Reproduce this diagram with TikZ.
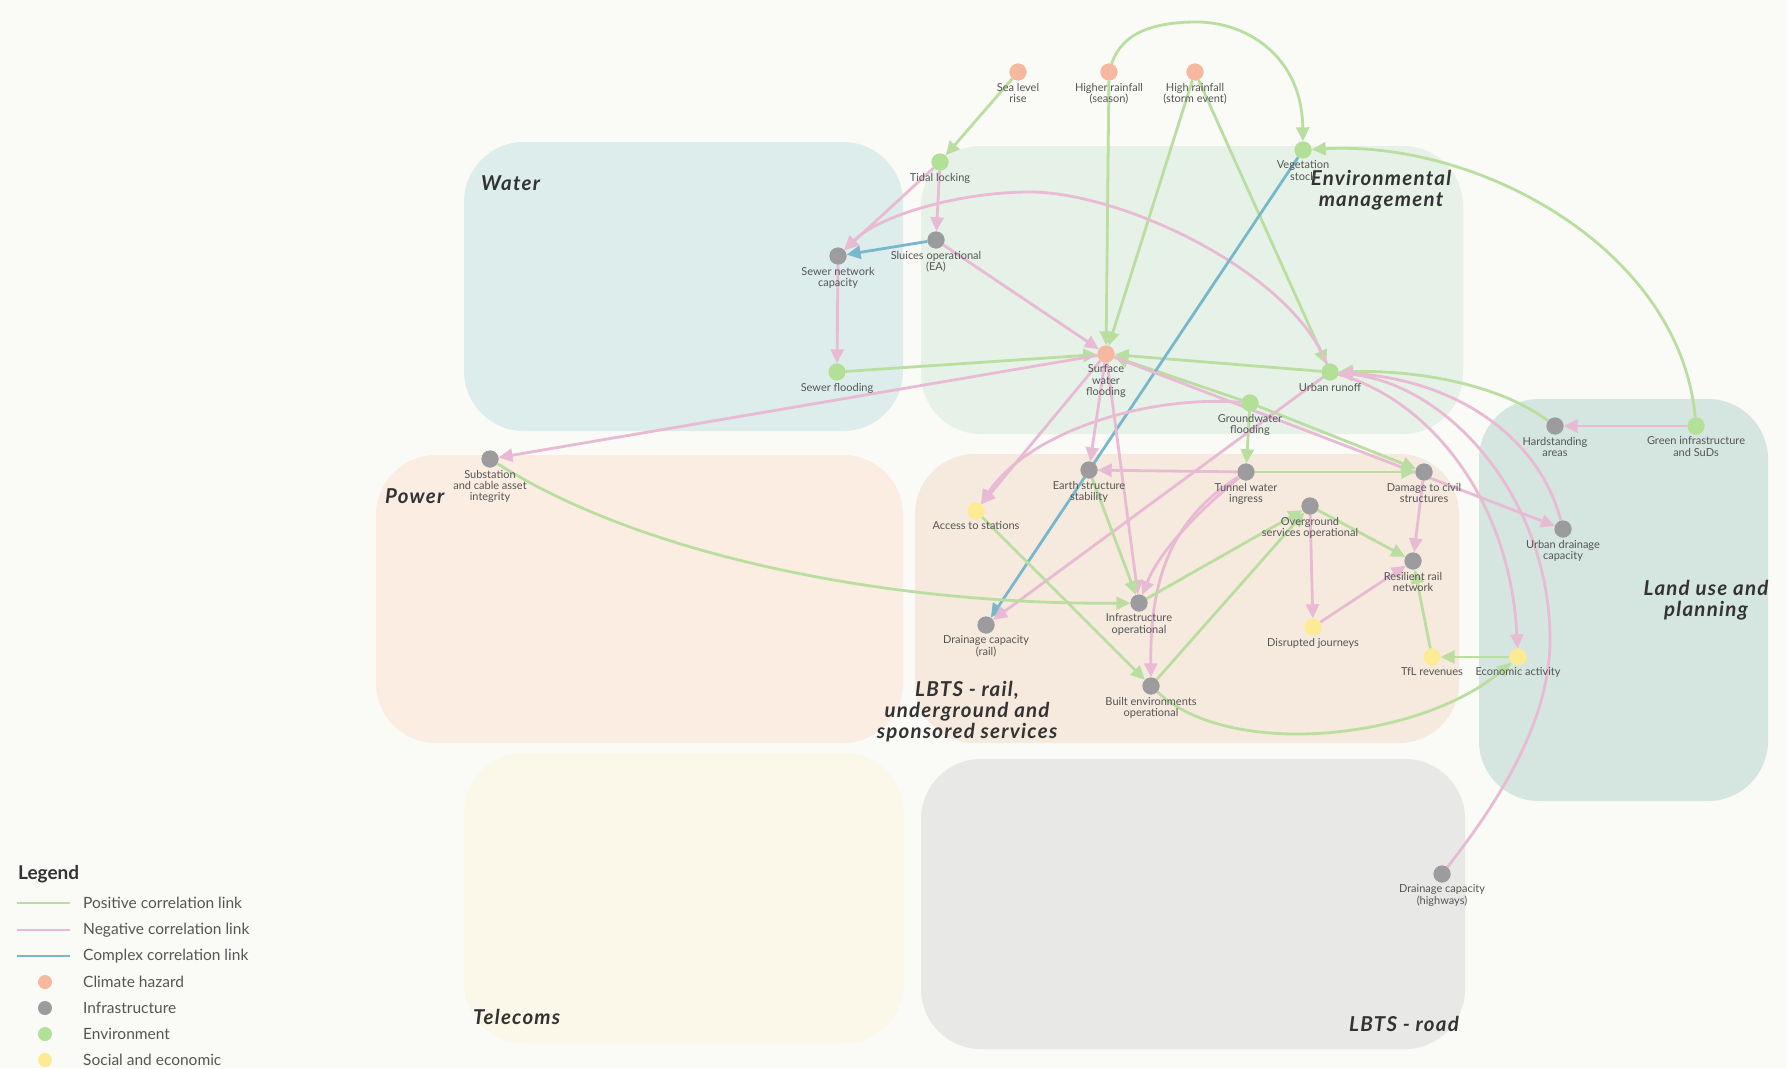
\documentclass[tikz,border=0pt]{standalone}
\usepackage{fontspec}
\setmainfont{Lato}
\newfontfamily\ttlfont[LetterSpace=6]{Lato}
\usetikzlibrary{arrows.meta}

% palette
\definecolor{bgc}{HTML}{FAFAF6}
\definecolor{waterc}{HTML}{DDEDEC}
\definecolor{envc}{HTML}{E6F2E8}
\definecolor{powerc}{HTML}{FBEDE2}
\definecolor{railc}{HTML}{F5EADD}
\definecolor{landc}{HTML}{D4E6DF}
\definecolor{telec}{HTML}{FBF8EA}
\definecolor{roadc}{HTML}{E8E8E6}
\definecolor{hazc}{HTML}{F6B9A0}
\definecolor{infc}{HTML}{9C9C9F}
\definecolor{envdot}{HTML}{B3E097}
\definecolor{socc}{HTML}{FCEB94}
\definecolor{posc}{HTML}{BADEA0}
\definecolor{negc}{HTML}{E8BAD4}
\definecolor{cpxc}{HTML}{79B7CD}
\definecolor{labc}{HTML}{555555}
\definecolor{titc}{HTML}{333333}

\tikzset{
  dot/.style={circle, minimum size=17pt, inner sep=0pt, draw=none},
  sHaz/.style={dot, fill=hazc},
  sInf/.style={dot, fill=infc},
  sEnv/.style={dot, fill=envdot},
  sSoc/.style={dot, fill=socc},
  lbl/.style={font=\fontsize{11}{11.4}\selectfont, text=labc, align=center,
    inner sep=0pt, anchor=north},
  ttl/.style={font=\ttlfont\fontsize{20.5}{21}\selectfont\bfseries\itshape, text=titc,
    align=center, inner sep=0pt},
  link/.style={line width=2.8pt, -{Triangle[length=14pt,width=13pt]}},
  poslink/.style={link, draw=posc},
  neglink/.style={link, draw=negc},
  cpxlink/.style={link, draw=cpxc},
  legtxt/.style={font=\fontsize{15.5}{17}\selectfont, text=labc, anchor=west, inner sep=0pt},
  zone/.style={rounded corners=60pt}
}

\begin{document}
\begin{tikzpicture}[x=1pt, y=-1pt]
\useasboundingbox (0,0) rectangle (1787,1068);
\fill[bgc] (0,0) rectangle (1787,1068);

% sector areas
\fill[waterc, zone] (464,142) rectangle (903,431);
\fill[envc,   zone] (921,146) rectangle (1463,434);
\fill[powerc, zone] (376,455) rectangle (903,743);
\fill[railc,  zone] (915,454) rectangle (1459,743);
\fill[landc,  zone] (1479,399) rectangle (1768,801);
\fill[telec,  zone] (464,753) rectangle (904,1043);
\fill[roadc,  zone] (921,759) rectangle (1465,1049);

% sector titles
\node[ttl, anchor=west] (t-water) at (481,183) {Water};
\node[ttl] (t-env) at (1381,190) {Environmental\\management};
\node[ttl, anchor=west] (t-power) at (385,496) {Power};
\node[ttl] (t-rail) at (967,712) {LBTS - rail,\\underground and\\sponsored services};
\node[ttl] (t-land) at (1706,600) {Land use and\\planning};
\node[ttl, anchor=west] (t-tele) at (473,1017) {Telecoms};
\node[ttl] (t-road) at (1404,1024) {LBTS - road};

% factors
\node[sHaz] (slr)   at (1018,72)  {};
\node[sHaz] (hrs)   at (1109,72)  {};
\node[sHaz] (hrst)  at (1195,72)  {};
\node[sHaz] (swf)   at (1106,354) {};
\node[sEnv] (tidal) at (940,162)  {};
\node[sEnv] (veg)   at (1303,150) {};
\node[sEnv] (sewfl) at (837,372)  {};
\node[sEnv] (runoff) at (1330,372) {};
\node[sEnv] (gwf)   at (1250,403) {};
\node[sEnv] (suds)  at (1696,426) {};
\node[sInf] (sluice) at (936,240) {};
\node[sInf] (sewcap) at (838,256) {};
\node[sInf] (subst) at (490,459)  {};
\node[sInf] (earth) at (1089,470) {};
\node[sInf] (tunnel) at (1246,472) {};
\node[sInf] (damage) at (1424,472) {};
\node[sInf] (overg) at (1310,506) {};
\node[sInf] (hard)  at (1555,426) {};
\node[sInf] (udrain) at (1563,529) {};
\node[sInf] (resil) at (1413,561) {};
\node[sInf] (infop) at (1139,603) {};
\node[sInf] (drail) at (986,625)  {};
\node[sInf] (built) at (1151,686) {};
\node[sInf] (dhigh) at (1442,874) {};
\node[sSoc] (access) at (976,511) {};
\node[sSoc] (disr)  at (1313,627) {};
\node[sSoc] (tfl)   at (1432,657) {};
\node[sSoc] (econ)  at (1518,657) {};

% links
\draw[poslink] (slr) -- (tidal);
\draw[poslink] (hrs) .. controls (1122,32) and (1155,22) .. (1197,22)
                     .. controls (1245,22) and (1302,55) .. (veg);
\draw[poslink] (hrs) -- (swf);
\draw[poslink] (hrst) -- (swf);
\draw[poslink] (hrst) -- (runoff);
\draw[neglink] (tidal) -- (sewcap);
\draw[neglink] (tidal) -- (sluice);
\draw[cpxlink] (sluice) -- (sewcap);
\draw[neglink] (sluice) -- (swf);
\draw[neglink] (runoff) .. controls (1290,270) and (1120,192) .. (1030,192)
                        .. controls (960,192) and (880,215) .. (sewcap);
\draw[neglink] (sewcap) -- (sewfl);
\draw[poslink] (sewfl) -- (swf);
\draw[neglink] (swf) -- (subst);
\draw[poslink] (runoff) -- (swf);
\draw[poslink] (gwf) -- (swf);
\draw[cpxlink] (veg) -- (drail);
\draw[poslink] (suds) .. controls (1680,250) and (1480,140) .. (veg);
\draw[neglink] (suds) -- (hard);
\draw[poslink] (hard) .. controls (1500,385) and (1420,370) .. (runoff);
\draw[neglink] (udrain) .. controls (1540,440) and (1460,380) .. (runoff);
\draw[neglink] (dhigh) .. controls (1500,800) and (1550,720) .. (1550,640)
                       .. controls (1550,500) and (1450,385) .. (runoff);
\draw[neglink] (runoff) .. controls (1430,400) and (1510,500) .. (econ);
\draw[neglink] (swf) -- (access);
\draw[neglink] (swf) -- (earth);
\draw[neglink] (swf) -- (infop);
\draw[neglink] (swf) -- (udrain);
\draw[neglink] (gwf) .. controls (1150,395) and (1030,430) .. (access);
\draw[poslink] (gwf) -- (tunnel);
\draw[poslink] (gwf) -- (damage);
\draw[neglink] (tunnel) -- (earth);
\draw[poslink] (tunnel) -- (damage);
\draw[neglink] (tunnel) .. controls (1200,510) and (1160,550) .. (infop);
\draw[neglink] (tunnel) .. controls (1170,520) and (1150,580) .. (built);
\draw[neglink] (runoff) -- (drail);
\draw[poslink] (earth) -- (infop);
\draw[poslink] (access) -- (built);
\draw[poslink] (subst) .. controls (650,560) and (900,605) .. (infop);
\draw[poslink] (infop) -- (overg);
\draw[poslink] (built) -- (overg);
\draw[poslink] (overg) -- (resil);
\draw[neglink] (overg) -- (disr);
\draw[neglink] (disr) -- (resil);
\draw[neglink] (damage) -- (resil);
\draw[poslink] (tfl) -- (resil);
\draw[poslink] (econ) -- (tfl);
\draw[poslink] (built) .. controls (1230,760) and (1420,740) .. (econ);

% redraw dots above the links
\foreach \n/\s in {slr/sHaz,hrs/sHaz,hrst/sHaz,swf/sHaz,tidal/sEnv,veg/sEnv,
  sewfl/sEnv,runoff/sEnv,gwf/sEnv,suds/sEnv,sluice/sInf,sewcap/sInf,subst/sInf,
  earth/sInf,tunnel/sInf,damage/sInf,overg/sInf,hard/sInf,udrain/sInf,resil/sInf,
  infop/sInf,drail/sInf,built/sInf,dhigh/sInf,access/sSoc,disr/sSoc,tfl/sSoc,econ/sSoc}
  {\node[\s] (\n-d) at (\n) {};}

% factor labels
\node[lbl] (slr-l)    at ([yshift=-2pt]slr.south)    {Sea level\\rise};
\node[lbl] (hrs-l)    at ([yshift=-2pt]hrs.south)    {Higher rainfall\\(season)};
\node[lbl] (hrst-l)   at ([yshift=-2pt]hrst.south)   {High rainfall\\(storm event)};
\node[lbl] (swf-l)    at ([yshift=-2pt]swf.south)    {Surface\\water\\flooding};
\node[lbl] (tidal-l)  at ([yshift=-2pt]tidal.south)  {Tidal locking};
\node[lbl] (veg-l)    at ([yshift=-2pt]veg.south)    {Vegetation\\stock};
\node[lbl] (sewfl-l)  at ([yshift=-2pt]sewfl.south)  {Sewer flooding};
\node[lbl] (runoff-l) at ([yshift=-2pt]runoff.south) {Urban runoff};
\node[lbl] (gwf-l)    at ([yshift=-2pt]gwf.south)    {Groundwater\\flooding};
\node[lbl] (suds-l)   at ([yshift=-2pt]suds.south)   {Green infrastructure\\and SuDs};
\node[lbl] (sluice-l) at ([yshift=-2pt]sluice.south) {Sluices operational\\(EA)};
\node[lbl] (sewcap-l) at ([yshift=-2pt]sewcap.south) {Sewer network\\capacity};
\node[lbl] (subst-l)  at ([yshift=-2pt]subst.south)  {Substation\\and cable asset\\integrity};
\node[lbl] (earth-l)  at ([yshift=-2pt]earth.south)  {Earth structure\\stability};
\node[lbl] (tunnel-l) at ([yshift=-2pt]tunnel.south) {Tunnel water\\ingress};
\node[lbl] (damage-l) at ([yshift=-2pt]damage.south) {Damage to civil\\structures};
\node[lbl] (overg-l)  at ([yshift=-2pt]overg.south)  {Overground\\services operational};
\node[lbl] (hard-l)   at ([yshift=-2pt]hard.south)   {Hardstanding\\areas};
\node[lbl] (udrain-l) at ([yshift=-2pt]udrain.south) {Urban drainage\\capacity};
\node[lbl] (resil-l)  at ([yshift=-2pt]resil.south)  {Resilient rail\\network};
\node[lbl] (infop-l)  at ([yshift=-2pt]infop.south)  {Infrastructure\\operational};
\node[lbl] (drail-l)  at ([yshift=-2pt]drail.south)  {Drainage capacity\\(rail)};
\node[lbl] (built-l)  at ([yshift=-2pt]built.south)  {Built environments\\operational};
\node[lbl] (dhigh-l)  at ([yshift=-2pt]dhigh.south)  {Drainage capacity\\(highways)};
\node[lbl] (access-l) at ([yshift=-2pt]access.south) {Access to stations};
\node[lbl] (disr-l)   at ([yshift=-2pt]disr.south)   {Disrupted journeys};
\node[lbl] (tfl-l)    at ([yshift=-2pt]tfl.south)    {TfL revenues};
\node[lbl] (econ-l)   at ([yshift=-2pt]econ.south)   {Economic activity};

% legend
\node[font=\fontsize{19}{21}\selectfont\bfseries, text=titc, anchor=west, inner sep=0pt]
  (leg) at (18,874) {Legend};
\coordinate (lg1a) at (17,903); \coordinate (lg1b) at (70,903);
\coordinate (lg2a) at (17,930); \coordinate (lg2b) at (70,930);
\coordinate (lg3a) at (17,956); \coordinate (lg3b) at (70,956);
\draw[posc, line width=1.5pt] (lg1a) -- (lg1b);
\draw[negc, line width=1.5pt] (lg2a) -- (lg2b);
\draw[cpxc, line width=1.5pt] (lg3a) -- (lg3b);
\node[legtxt] (leg1) at (83,903) {Positive correlation link};
\node[legtxt] (leg2) at (83,930) {Negative correlation link};
\node[legtxt] (leg3) at (83,956) {Complex correlation link};
\node[circle, minimum size=14pt, inner sep=0pt, fill=hazc] (lgd1) at (45,982) {};
\node[circle, minimum size=14pt, inner sep=0pt, fill=infc] (lgd2) at (45,1008) {};
\node[circle, minimum size=14pt, inner sep=0pt, fill=envdot] (lgd3) at (45,1034) {};
\node[circle, minimum size=14pt, inner sep=0pt, fill=socc] (lgd4) at (45,1060) {};
\node[legtxt] (leg4) at (83,982) {Climate hazard};
\node[legtxt] (leg5) at (83,1008) {Infrastructure};
\node[legtxt] (leg6) at (83,1034) {Environment};
\node[legtxt] (leg7) at (83,1060) {Social and economic};
\end{tikzpicture}
\end{document}
